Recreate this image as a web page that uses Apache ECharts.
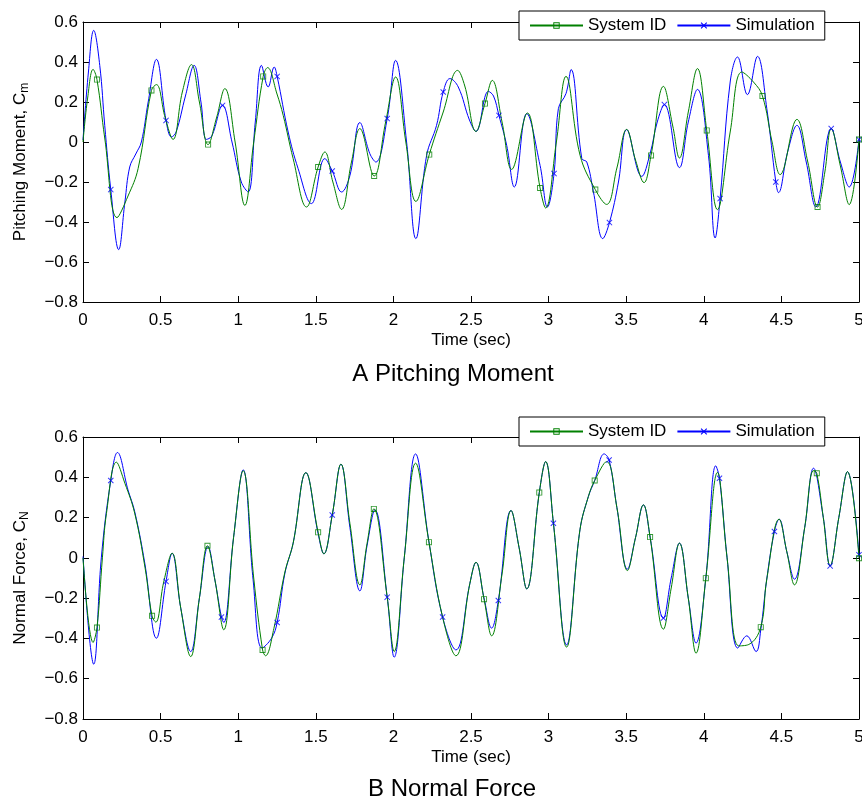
<!DOCTYPE html>
<html>
<head>
<meta charset="utf-8">
<script src="https://cdn.jsdelivr.net/npm/echarts/dist/echarts.min.js"></script>
<style>
  html, body { margin: 0; padding: 0; background: #fff; }
  #chart { width: 862px; height: 809px; }
</style>
</head>
<body>
<div id="chart"></div>
<script>
// ---- Pitching moment C_m: identified model (System ID) vs simulation ----
const topSysIdCurve = [
  [0,0],[0.03,0.22],[0.065,0.363],[0.14,0.02],[0.219,-0.378],[0.29,-0.27],[0.355,-0.133],
  [0.473,0.287],[0.53,0.12],[0.58,0.013],[0.64,0.25],[0.699,0.387],[0.75,0.2],[0.86,0.12],
  [0.914,0.267],[0.98,0.0],[1.043,-0.317],[1.10,0.0],[1.189,0.372],[1.25,0.24],[1.290,0.133],
  [1.354,-0.083],[1.440,-0.325],[1.558,-0.05],[1.61,-0.2],[1.666,-0.337],[1.73,-0.1],[1.784,0.067],
  [1.95,0.1],[2.014,0.325],[2.08,0.0],[2.145,-0.297],[2.321,0.15],[2.414,0.358],[2.46,0.28],
  [2.532,0.053],[2.637,0.308],[2.70,0.1],[2.762,-0.137],[2.863,0.145],[2.981,-0.33],[3.05,0.0],
  [3.112,0.328],[3.203,-0.067],[3.374,-0.312],[3.44,-0.13],[3.503,0.063],[3.56,-0.09],[3.615,-0.203],
  [3.740,0.278],[3.80,0.08],[3.843,-0.08],[3.90,0.15],[3.959,0.367],[4.088,-0.338],[4.17,0.05],
  [4.245,0.35],[4.320,0.3],[4.44,0.0],[4.492,-0.163],[4.600,0.113],[4.67,-0.1],[4.78,-0.15],
  [4.821,0.067],[4.88,-0.12],[4.937,-0.313]
];
const topSysIdMarks = [
  [0.090,0.312],[0.441,0.258],[0.806,-0.013],[1.161,0.328],[1.515,-0.125],[1.876,-0.17],
  [2.231,-0.063],[2.590,0.192],[2.945,-0.23],[3.301,-0.238],[3.660,-0.067],[4.019,0.058],
  [4.378,0.23],[4.733,-0.325],[5.0,0.012]
];
const topSimCurve = [
  [0,0.01],[0.035,0.35],[0.069,0.558],[0.108,0.383],[0.14,0.083],[0.230,-0.538],[0.27,-0.3],
  [0.301,-0.125],[0.34,-0.06],[0.376,0.0],[0.42,0.2],[0.473,0.413],[0.570,0.025],[0.60,0.05],
  [0.66,0.23],[0.716,0.383],[0.76,0.2],[0.795,0.013],[0.83,0.03],[0.96,0.0],[1.02,-0.2],
  [1.064,-0.25],[1.11,0.1],[1.150,0.383],[1.193,0.275],[1.232,0.375],[1.322,0.05],[1.386,-0.133],
  [1.472,-0.308],[1.558,-0.083],[1.666,-0.25],[1.720,-0.167],[1.784,0.097],[1.848,-0.058],
  [1.887,-0.1],[2.014,0.408],[2.085,0.0],[2.145,-0.483],[2.214,-0.067],[2.278,0.083],[2.364,0.317],
  [2.418,0.275],[2.49,0.11],[2.532,0.053],[2.612,0.253],[2.645,0.23],[2.730,-0.017],[2.779,-0.225],
  [2.859,0.142],[2.945,-0.117],[2.992,-0.325],[3.063,0.167],[3.112,0.242],[3.145,0.362],
  [3.214,-0.083],[3.246,-0.1],[3.289,-0.25],[3.349,-0.483],[3.45,-0.2],[3.503,0.062],[3.600,-0.172],
  [3.654,-0.058],[3.70,0.1],[3.843,-0.128],[3.90,0.1],[3.959,0.263],[4.030,-0.067],[4.073,-0.48],
  [4.170,0.3],[4.217,0.425],[4.281,0.237],[4.346,0.428],[4.406,0.167],[4.481,-0.253],[4.54,-0.05],
  [4.600,0.083],[4.66,-0.1],[4.722,-0.325],[4.88,-0.1],[4.937,-0.225]
];
const topSimMarks = [
  [0.179,-0.238],[0.535,0.108],[0.899,0.183],[1.251,0.328],[1.606,-0.145],[1.960,0.117],
  [2.321,0.25],[2.680,0.133],[3.035,-0.158],[3.392,-0.403],[3.746,0.187],[4.105,-0.283],
  [4.464,-0.2],[4.821,0.067],[5.0,0.012]
];

// ---- Normal force C_N: identified model (System ID) vs simulation ----
const botSysIdCurve = [
  [0,0],[0.065,-0.42],[0.125,0.0],[0.151,0.22],[0.215,0.475],[0.27,0.37],[0.333,0.222],[0.40,-0.05],
  [0.469,-0.319],[0.52,-0.12],[0.574,0.023],[0.63,-0.25],[0.694,-0.49],[0.75,-0.2],[0.85,-0.11],
  [0.907,-0.357],[0.97,0.1],[1.032,0.433],[1.10,-0.1],[1.176,-0.486],[1.23,-0.35],[1.301,-0.07],
  [1.354,0.073],[1.436,0.423],[1.552,0.02],[1.606,0.213],[1.662,0.465],[1.72,0.17],[1.784,-0.134],
  [1.83,0.07],[1.960,-0.195],[2.005,-0.465],[2.07,0.0],[2.143,0.47],[2.317,-0.294],[2.403,-0.486],
  [2.493,-0.126],[2.532,-0.022],[2.633,-0.387],[2.70,-0.08],[2.758,0.235],[2.81,0.05],[2.859,-0.154],
  [2.981,0.478],[3.031,0.172],[3.116,-0.443],[3.202,0.139],[3.256,0.304],[3.374,0.478],[3.44,0.25],
  [3.508,-0.063],[3.56,0.1],[3.611,0.263],[3.740,-0.354],[3.79,-0.15],[3.843,0.073],[3.90,-0.2],
  [3.950,-0.473],[4.088,0.424],[4.15,0.0],[4.225,-0.437],[4.29,-0.43],[4.405,-0.11],[4.485,0.192],
  [4.535,0.03],[4.584,-0.134],[4.65,0.15],[4.707,0.433],[4.77,0.2],[4.814,-0.04],[4.87,0.2],
  [4.926,0.428]
];
const botSysIdMarks = [
  [0.090,-0.346],[0.445,-0.288],[0.802,0.06],[1.157,-0.457],[1.515,0.127],[1.874,0.243],
  [2.229,0.078],[2.584,-0.205],[2.940,0.324],[3.297,0.384],[3.654,0.103],[4.013,-0.101],
  [4.367,-0.344],[4.728,0.42],[5.0,-0.002]
];
const botSimCurve = [
  [0,0.007],[0.069,-0.528],[0.118,0.0],[0.222,0.523],[0.290,0.337],[0.333,0.23],[0.398,-0.026],
  [0.473,-0.399],[0.574,0.023],[0.63,-0.25],[0.694,-0.465],[0.75,-0.2],[0.806,0.056],[0.85,-0.11],
  [0.907,-0.321],[0.97,0.1],[1.032,0.437],[1.096,-0.109],[1.154,-0.448],[1.215,-0.399],[1.301,-0.076],
  [1.354,0.073],[1.436,0.423],[1.515,0.12],[1.552,0.02],[1.662,0.465],[1.72,0.15],[1.784,-0.164],
  [1.83,0.06],[1.881,0.238],[2.005,-0.493],[2.07,0.0],[2.143,0.516],[2.229,0.08],[2.403,-0.457],
  [2.493,-0.126],[2.532,-0.022],[2.584,-0.2],[2.633,-0.349],[2.758,0.235],[2.81,0.05],[2.859,-0.154],
  [2.940,0.324],[2.981,0.478],[3.116,-0.432],[3.202,0.139],[3.256,0.304],[3.297,0.384],[3.358,0.516],
  [3.44,0.25],[3.508,-0.056],[3.56,0.1],[3.611,0.263],[3.654,0.103],[3.79,-0.1],[3.843,0.073],
  [3.90,-0.2],[3.950,-0.423],[4.013,-0.101],[4.077,0.457],[4.15,0.0],[4.219,-0.448],[4.277,-0.387],
  [4.337,-0.465],[4.367,-0.357],[4.405,-0.11],[4.485,0.192],[4.535,0.03],[4.584,-0.106],[4.65,0.15],
  [4.707,0.445],[4.77,0.2],[4.87,0.2],[4.926,0.428]
];
const botSimMarks = [
  [0.179,0.384],[0.535,-0.117],[0.892,-0.294],[1.251,-0.321],[1.606,0.213],[1.960,-0.195],
  [2.317,-0.294],[2.676,-0.212],[3.031,0.172],[3.390,0.486],[3.740,-0.299],[4.101,0.395],
  [4.455,0.131],[4.814,-0.04],[5.0,0.015]
];

// ---- Axis ranges and labels ----
const timeRange = [0, 5];
const timeStep = 0.5;
const coefRange = [-0.8, 0.6];
const coefStep = 0.2;
const seriesNames = ['System ID', 'Simulation'];
const panelTitles = ['A Pitching Moment', 'B Normal Force'];
const yNames = [['Pitching Moment, C', 'm'], ['Normal Force, C', 'N']];
const xName = 'Time (sec)';

const FONT = '"Liberation Sans", Arial, Helvetica, sans-serif';
const GREEN = '#008000';
const BLUE = '#0000ff';
const HOLLOW_SQUARE = 'path://M0,0H12V12H0Z M1.8,1.8V10.2H10.2V1.8Z';
const CROSS = 'path://M0,1.4L1.4,0L6,4.6L10.6,0L12,1.4L7.4,6L12,10.6L10.6,12L6,7.4L1.4,12L0,10.6L4.6,6Z';

function withMarks(curve, marks) {
  return curve.concat(marks).sort((a, b) => a[0] - b[0]);
}
function fmtCoef(v) {
  if (Math.abs(v) < 1e-9) return '0';
  return (v < 0 ? '\u2212' : '') + Math.abs(v).toFixed(1);
}

const grids = [
  { left: 83, top: 22, width: 776, height: 280 },
  { left: 83, top: 437, width: 776, height: 282 }
];
grids.forEach(g => { g.containLabel = false; g.outerBoundsMode = 'none'; });

const tickStyle = { inside: true, length: 6, lineStyle: { color: '#000', width: 1 } };
const lineAxis = { onZero: false, lineStyle: { color: '#000', width: 1 } };

const xAxes = [];
const yAxes = [];
[0, 1].forEach(gi => {
  xAxes.push({
    type: 'value', gridIndex: gi, position: 'bottom',
    min: timeRange[0], max: timeRange[1], interval: timeStep,
    axisLine: lineAxis, axisTick: tickStyle, splitLine: { show: false },
    axisLabel: { color: '#000', fontSize: 17, fontFamily: FONT, margin: 10, showMinLabel: true, showMaxLabel: true, hideOverlap: false },
    name: xName, nameLocation: 'middle', nameGap: 30, nameMoveOverlap: false,
    nameTextStyle: { color: '#000', fontSize: 17, fontFamily: FONT }
  });
  yAxes.push({
    type: 'value', gridIndex: gi, position: 'left',
    min: coefRange[0], max: coefRange[1], interval: coefStep,
    axisLine: lineAxis, axisTick: tickStyle, splitLine: { show: false },
    axisLabel: { color: '#000', fontSize: 17, fontFamily: FONT, margin: 5, formatter: fmtCoef, showMinLabel: true, showMaxLabel: true, hideOverlap: false },
    name: '{t|' + yNames[gi][0] + '}{s|' + yNames[gi][1] + '}',
    nameLocation: 'middle', nameGap: 52, nameRotate: 90, nameMoveOverlap: false,
    nameTextStyle: {
      color: '#000', fontSize: 17, fontFamily: FONT,
      rich: {
        t: { fontSize: 17, fontFamily: FONT, color: '#000', lineHeight: 22 },
        s: { fontSize: 12, fontFamily: FONT, color: '#000', lineHeight: 14, verticalAlign: 'bottom' }
      }
    }
  });
});
// box outline with inward ticks on the top and right sides
[0, 1].forEach(gi => {
  xAxes.push({
    type: 'value', gridIndex: gi, position: 'top',
    min: timeRange[0], max: timeRange[1], interval: timeStep,
    axisLine: lineAxis, axisTick: tickStyle, axisLabel: { show: false }, splitLine: { show: false }
  });
  yAxes.push({
    type: 'value', gridIndex: gi, position: 'right',
    min: coefRange[0], max: coefRange[1], interval: coefStep,
    axisLine: lineAxis, axisTick: tickStyle, axisLabel: { show: false }, splitLine: { show: false }
  });
});

function lineSeries(name, gi, curve, marks, color, symbol, z) {
  return {
    type: 'line', name: name, xAxisIndex: gi, yAxisIndex: gi,
    data: withMarks(curve, marks), smooth: 0.4, showSymbol: false,
    symbol: symbol, symbolSize: 6, silent: true, z: z,
    lineStyle: { color: color, width: 1 }, itemStyle: { color: color }
  };
}
function markSeries(name, gi, marks, color, symbol, z) {
  return {
    type: 'scatter', name: name + ' samples', xAxisIndex: gi, yAxisIndex: gi,
    data: marks, symbol: symbol, symbolSize: 6, silent: true, z: z,
    itemStyle: { color: color }
  };
}

const series = [
  lineSeries(seriesNames[1], 0, topSimCurve, topSimMarks, BLUE, CROSS, 2),
  lineSeries(seriesNames[0], 0, topSysIdCurve, topSysIdMarks, GREEN, HOLLOW_SQUARE, 3),
  markSeries(seriesNames[1], 0, topSimMarks, BLUE, CROSS, 4),
  markSeries(seriesNames[0], 0, topSysIdMarks, GREEN, HOLLOW_SQUARE, 4),
  lineSeries(seriesNames[1], 1, botSimCurve, botSimMarks, BLUE, CROSS, 2),
  lineSeries(seriesNames[0], 1, botSysIdCurve, botSysIdMarks, GREEN, HOLLOW_SQUARE, 3),
  markSeries(seriesNames[1], 1, botSimMarks, BLUE, CROSS, 4),
  markSeries(seriesNames[0], 1, botSysIdMarks, GREEN, HOLLOW_SQUARE, 4)
];

function legendAt(top) {
  return {
    top: top, left: 519, orient: 'horizontal', data: seriesNames.slice(),
    itemWidth: 53, itemHeight: 8, itemGap: 10, padding: [6, 10, 6, 10],
    borderColor: '#000', borderWidth: 1, borderRadius: 0, backgroundColor: '#fff',
    selectedMode: false,
    textStyle: { color: '#000', fontSize: 17, fontFamily: FONT }
  };
}

const chart = echarts.init(document.getElementById('chart'), null, { renderer: 'canvas' });
chart.setOption({
  animation: false,
  backgroundColor: '#fff',
  grid: grids,
  xAxis: xAxes,
  yAxis: yAxes,
  legend: [legendAt(11), legendAt(417)],
  series: series,
  graphic: [
    { type: 'text', x: 453, y: 374, style: { text: panelTitles[0], fontSize: 24, fontFamily: FONT, fill: '#000', align: 'center', verticalAlign: 'middle' } },
    { type: 'text', x: 452, y: 789, style: { text: panelTitles[1], fontSize: 24, fontFamily: FONT, fill: '#000', align: 'center', verticalAlign: 'middle' } }
  ]
});
</script>
</body>
</html>
